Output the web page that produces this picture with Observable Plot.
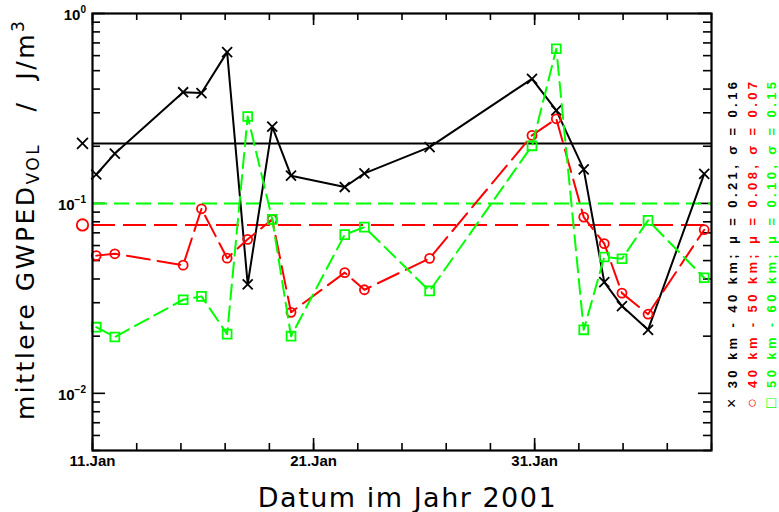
<!DOCTYPE html>
<html><head><meta charset="utf-8">
<script src="https://cdn.jsdelivr.net/npm/d3@7"></script>
<script src="https://cdn.jsdelivr.net/npm/@observablehq/plot@0.6"></script>
<style>body{margin:0;background:#fff}svg{display:block}</style>
</head><body><div id="chart"></div>
<script>
// ---- data (day of January 2001, fractional) ----
const days = [11.17, 12.01, 15.10, 15.93, 17.09, 18.02, 19.13, 19.98, 22.41, 23.30, 26.25, 30.88, 31.98, 33.22, 34.15, 34.95, 36.13, 38.67];
const gw3040 = [0.142, 0.183, 0.385, 0.381, 0.626, 0.0375, 0.254, 0.140, 0.122, 0.144, 0.198, 0.453, 0.309, 0.151, 0.0385, 0.0288, 0.0216, 0.143];
const gw4050 = [0.0531, 0.0543, 0.0473, 0.0937, 0.0515, 0.0647, 0.0824, 0.0267, 0.0432, 0.0351, 0.0514, 0.228, 0.279, 0.0847, 0.0614, 0.0337, 0.0261, 0.0727];
const gw5060 = [0.0223, 0.0198, 0.0311, 0.0324, 0.0205, 0.287, 0.0824, 0.0200, 0.0685, 0.0750, 0.0346, 0.201, 0.652, 0.0216, 0.0522, 0.0511, 0.0814, 0.0406];
const means = [0.207, 0.077, 0.100];
const seriesNames = ["30 km - 40 km", "40 km - 50 km", "50 km - 60 km"];
const muLabels = ["0.21", "0.08", "0.10"];
const sigmaLabels = ["0.16", "0.07", "0.15"];
const seriesSymbols = ["×", "○", "□"];
const xTickDays = [11, 21, 31];
const xTickLabels = ["11.Jan", "21.Jan", "31.Jan"];
const xMinorDays = [11, 13, 15, 17, 19, 21, 23, 25, 27, 29, 31, 33, 35, 37, 39];
const xDomainDays = [11, 39];
const yDomain = [0.005, 1];
const yMajor = [0.01, 0.1, 1];
const yMajorExp = ["-2", "-1", "0"];
const yMinor = [0.005, 0.006, 0.007, 0.008, 0.009, 0.02, 0.03, 0.04, 0.05, 0.06, 0.07, 0.08, 0.09, 0.2, 0.3, 0.4, 0.5, 0.6, 0.7, 0.8, 0.9];
const xTitle = "Datum im Jahr 2001";

// ---- styles ----
const colors = ["#000000", "#ff0000", "#00ff00"];
const dashes = [null, "23,8", "15,7"];
const symbols = ["times", "circle", "square"];
const symR = [4.6, 4.5, 5];

const toDate = d => new Date(Date.UTC(2001, 0, 1) + (d - 1) * 864e5);
const W = 779, H = 512, mL = 92, mR = 68, mT = 13, mB = 62;
const fw = W - mL - mR, fh = H - mT - mB;

const seriesVals = [gw3040, gw4050, gw5060];
const rows = seriesVals.map(vals => days.map((d, i) => ({date: toDate(d), v: vals[i]})));

const marks = [];
// ticks (inward)
marks.push(Plot.tickY(yMajor, {y: d => d, insetRight: fw - 13, stroke: "black", strokeWidth: 1.6}));
marks.push(Plot.tickY(yMinor, {y: d => d, insetRight: fw - 8, stroke: "black", strokeWidth: 1.6}));
marks.push(Plot.tickY(yMajor, {y: d => d, insetLeft: fw - 13, stroke: "black", strokeWidth: 1.6}));
marks.push(Plot.tickY(yMinor, {y: d => d, insetLeft: fw - 8, stroke: "black", strokeWidth: 1.6}));
marks.push(Plot.tickX(xTickDays, {x: d => toDate(d), insetTop: fh - 12, stroke: "black", strokeWidth: 1.6}));
marks.push(Plot.tickX(xMinorDays, {x: d => toDate(d), insetTop: fh - 7, stroke: "black", strokeWidth: 1.6}));
marks.push(Plot.tickX(xTickDays, {x: d => toDate(d), insetBottom: fh - 12, stroke: "black", strokeWidth: 1.6}));
marks.push(Plot.tickX(xMinorDays, {x: d => toDate(d), insetBottom: fh - 7, stroke: "black", strokeWidth: 1.6}));
// mean lines
means.forEach((m, i) => {
  marks.push(Plot.ruleY([m], {stroke: colors[i], strokeWidth: 2, strokeDasharray: dashes[i]}));
});
// series lines and markers
rows.forEach((r, i) => {
  marks.push(Plot.line(r, {x: "date", y: "v", stroke: colors[i], strokeWidth: 2, strokeDasharray: dashes[i]}));
  marks.push(Plot.dot(r, {x: "date", y: "v", symbol: symbols[i], r: symR[i], stroke: colors[i], strokeWidth: 1.8, fill: "none"}));
});
// markers beside the axis at the mean values
marks.push(Plot.dot([means[0]], {x: () => toDate(xDomainDays[0]), y: d => d, dx: -10, symbol: "times", r: 5, stroke: colors[0], strokeWidth: 1.8, fill: "none"}));
marks.push(Plot.dot([means[1]], {x: () => toDate(xDomainDays[0]), y: d => d, dx: -10, symbol: "circle", r: 5.7, stroke: colors[1], strokeWidth: 1.8, fill: "none"}));
// x tick labels
marks.push(Plot.text(xTickDays, {x: d => toDate(d), text: (d, i) => xTickLabels[i], frameAnchor: "bottom", dy: 15, fontFamily: "Liberation Sans", fontWeight: "bold", fontSize: 15, fill: "black"}));
marks.push(Plot.frame({stroke: "black", strokeWidth: 2.2}));

const plot = Plot.plot({
  width: W, height: H,
  marginLeft: mL, marginRight: mR, marginTop: mT, marginBottom: mB,
  x: {type: "utc", domain: xDomainDays.map(toDate), axis: null},
  y: {type: "log", domain: yDomain, axis: null},
  style: {background: "white", overflow: "visible"},
  marks
});
document.getElementById("chart").append(plot);

const svg = d3.select(plot);
const ys = plot.scale("y");
// y tick labels 10^n
yMajor.forEach((v, i) => {
  const t = svg.append("text")
    .attr("x", mL - 6).attr("y", ys.apply(v) + 7)
    .attr("text-anchor", "end")
    .attr("font-family", "Liberation Sans").attr("font-weight", "bold").attr("font-size", 15);
  t.append("tspan").text("10");
  t.append("tspan").attr("dy", -7).attr("font-size", 10).text(yMajorExp[i] === "0" ? "0" : "−" + yMajorExp[i].slice(1));
});
// x title
svg.append("text")
  .attr("x", (mL + W - mR) / 2 + 6).attr("y", 507)
  .attr("text-anchor", "middle")
  .attr("font-family", "DejaVu Sans").attr("font-size", 27).attr("letter-spacing", 1.5)
  .text(xTitle);
// y title
const yt = svg.append("text")
  .attr("transform", "translate(34,420) rotate(-90)")
  .attr("text-anchor", "start")
  .attr("font-family", "DejaVu Sans").attr("font-size", 25).attr("letter-spacing", 2.5);
yt.append("tspan").text("mittlere GWPED");
yt.append("tspan").attr("font-size", 17).attr("dy", 5).text("VOL");
yt.append("tspan").attr("dy", -5).text("\u00a0\u00a0\u00a0/\u00a0\u00a0J/m");
yt.append("tspan").attr("font-size", 17).attr("dy", -10).text("3");
// legend (rotated, right side)
[736.5, 756.5, 776].forEach((bx, i) => {
  const t = svg.append("text")
    .attr("transform", `translate(${bx},408) rotate(-90)`)
    .attr("text-anchor", "start")
    .attr("font-family", "Liberation Sans").attr("font-weight", "bold").attr("font-size", 13)
    .attr("fill", colors[i])
    .attr("textLength", 326).attr("lengthAdjust", "spacing");
  t.append("tspan").attr("font-size", 16).attr("font-weight", "normal").text(seriesSymbols[i]);
  t.append("tspan").text(` ${seriesNames[i]}; μ = ${muLabels[i]}, σ = ${sigmaLabels[i]}`);
});
</script>
</body></html>
